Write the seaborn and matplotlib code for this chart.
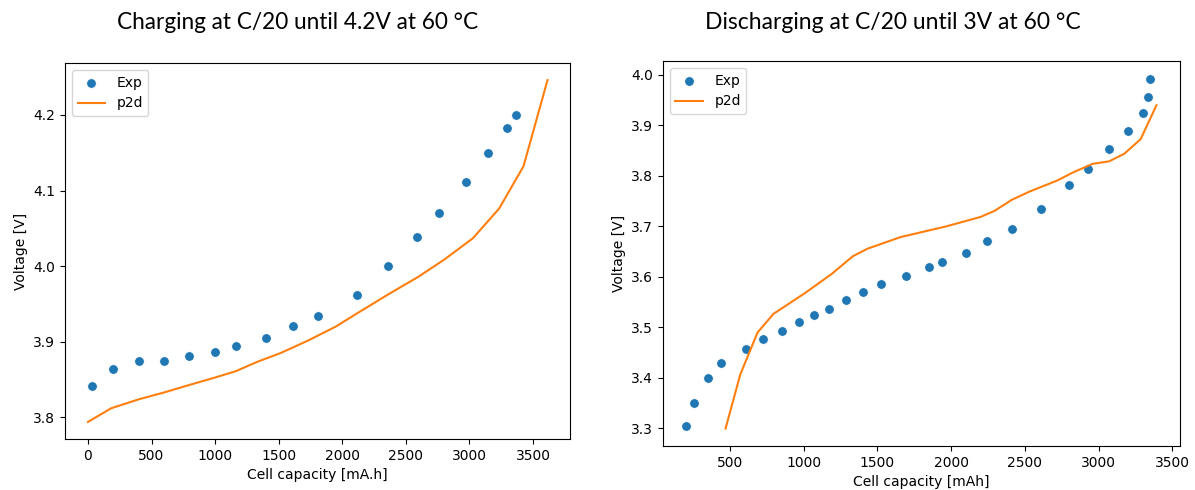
import matplotlib
matplotlib.use("Agg")
import matplotlib.pyplot as plt
import seaborn as sns

# charging at C/20, experiment
chg_exp_cap = [33, 193, 404, 597, 795, 998, 1164, 1400, 1609, 1806, 2113, 2363, 2588, 2762, 2973, 3146, 3299, 3366]
chg_exp_v = [3.842, 3.864, 3.874, 3.874, 3.881, 3.886, 3.895, 3.905, 3.921, 3.934, 3.962, 4.000, 4.039, 4.070, 4.111, 4.149, 4.183, 4.200]
# charging, p2d model
chg_sim_cap = [0, 182, 402, 600, 800, 998, 1161, 1340, 1514, 1731, 1948, 2111, 2355, 2599, 2805, 3028, 3233, 3425, 3614]
chg_sim_v = [3.794, 3.812, 3.824, 3.833, 3.843, 3.8526, 3.861, 3.874, 3.885, 3.9016, 3.920, 3.937, 3.962, 3.986, 4.009, 4.037, 4.076, 4.132, 4.246]

# discharging at C/20, experiment
dis_exp_cap = [205, 255, 348, 440, 610, 723, 851, 965, 1068, 1170, 1284, 1402, 1523, 1693, 1853, 1936, 2104, 2246, 2411, 2610, 2799, 2926, 3074, 3202, 3302, 3336, 3352]
dis_exp_v = [3.305, 3.351, 3.399, 3.430, 3.458, 3.477, 3.494, 3.511, 3.525, 3.537, 3.5535, 3.570, 3.5865, 3.601, 3.619, 3.629, 3.648, 3.671, 3.696, 3.735, 3.783, 3.813, 3.854, 3.889, 3.924, 3.957, 3.993]
# discharging, p2d model
dis_sim_cap = [470, 570, 687, 795, 1008, 1190, 1333, 1433, 1657, 1964, 2201, 2295, 2413, 2531, 2720, 2827, 2960, 3072, 3175, 3286, 3393]
dis_sim_v = [3.300, 3.407, 3.490, 3.527, 3.568, 3.606, 3.641, 3.656, 3.679, 3.700, 3.719, 3.731, 3.753, 3.769, 3.791, 3.807, 3.824, 3.829, 3.844, 3.873, 3.940]

fig = plt.figure(figsize=(11.95, 4.9), dpi=100)
ax1 = fig.add_axes([0.0544, 0.1041, 0.4230, 0.7673])
ax2 = fig.add_axes([0.5548, 0.0898, 0.4326, 0.7857])

# left: charge
sns.scatterplot(x=chg_exp_cap, y=chg_exp_v, ax=ax1, color="#1f77b4", s=50,
                edgecolor="white", linewidth=0.7, label="Exp")
sns.lineplot(x=chg_sim_cap, y=chg_sim_v, ax=ax1, color="#ff7f0e", linewidth=1.5, label="p2d")
ax1.set_xlabel("Cell capacity [mA.h]")
ax1.set_ylabel("Voltage [V]")
ax1.set_yticks([3.8, 3.9, 4.0, 4.1, 4.2])
ax1.legend(loc="upper left")

# right: discharge
sns.scatterplot(x=dis_exp_cap, y=dis_exp_v, ax=ax2, color="#1f77b4", s=50,
                edgecolor="white", linewidth=0.7, label="Exp")
sns.lineplot(x=dis_sim_cap, y=dis_sim_v, ax=ax2, color="#ff7f0e", linewidth=1.5, label="p2d")
ax2.set_xlabel("Cell capacity [mAh]")
ax2.set_ylabel("Voltage [V]")
ax2.legend(loc="upper left")

fig.text(0.2494, 0.954, "Charging at C/20 until 4.2V at 60 \u00b0C", ha="center", va="center",
         fontsize=16.3, family=["Lato", "DejaVu Sans"])
fig.text(0.7473, 0.954, "Discharging at C/20 until 3V at 60 \u00b0C", ha="center", va="center",
         fontsize=16.5, family=["Lato", "DejaVu Sans"])

fig.savefig("out.png", dpi=100)
